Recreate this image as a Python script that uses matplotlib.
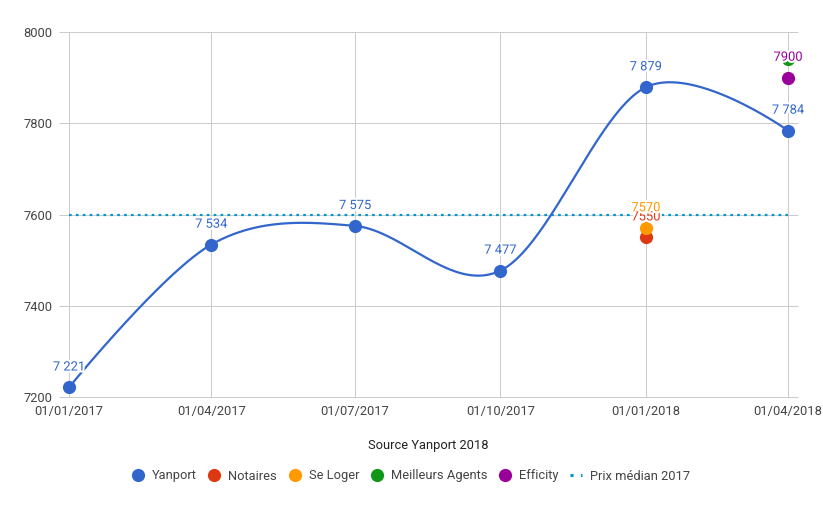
import numpy as np
import matplotlib
matplotlib.use("Agg")
import matplotlib.pyplot as plt
import matplotlib.dates as mdates
import matplotlib.patheffects as pe
from matplotlib.lines import Line2D
import datetime as dt

# ---- data ----
dates = ["2017-01-01", "2017-04-01", "2017-07-01", "2017-10-01", "2018-01-01", "2018-04-01"]
tick_labels = ["01/01/2017", "01/04/2017", "01/07/2017", "01/10/2017", "01/01/2018", "01/04/2018"]
yanport = [7221, 7534, 7575, 7477, 7879, 7784]
notaires_date, notaires = "2018-01-01", 7550
seloger_date, seloger = "2018-01-01", 7570
meilleurs_date, meilleurs = "2018-04-01", 7940
efficity_date, efficity = "2018-04-01", 7900
median_2017 = 7600
y_ticks = [7200, 7400, 7600, 7800, 8000]

C_YAN = "#3366CC"
C_NOT = "#DC3912"
C_SEL = "#FF9900"
C_MA = "#109618"
C_EFF = "#990099"
C_MED = "#0099C6"
GRID = "#cccccc"
TXT = "#444444"

plt.rcParams["font.family"] = ["Roboto", "DejaVu Sans"]

W, H = 823, 509
fig = plt.figure(figsize=(W / 100, H / 100), dpi=100)
ax = fig.add_axes([59 / W, 1 - 397 / H, (798 - 59) / W, (397 - 32) / H])

xd = np.array([mdates.date2num(dt.datetime.strptime(d, "%Y-%m-%d")) for d in dates])
yv = np.array(yanport, dtype=float)

def dnum(s):
    return mdates.date2num(dt.datetime.strptime(s, "%Y-%m-%d"))

# Catmull-Rom style bezier smoothing (function curve)
n = len(xd)
tx = np.zeros(n); ty = np.zeros(n)
for i in range(n):
    if 0 < i < n - 1:
        tx[i] = (xd[i + 1] - xd[i - 1]) / 6.0
        ty[i] = (yv[i + 1] - yv[i - 1]) / 6.0
cx, cy = [], []
t = np.linspace(0, 1, 80)
for i in range(n - 1):
    p0 = (xd[i], yv[i]); p3 = (xd[i + 1], yv[i + 1])
    p1 = (xd[i] + tx[i], yv[i] + ty[i])
    p2 = (xd[i + 1] - tx[i + 1], yv[i + 1] - ty[i + 1])
    bx = (1 - t) ** 3 * p0[0] + 3 * t * (1 - t) ** 2 * p1[0] + 3 * t ** 2 * (1 - t) * p2[0] + t ** 3 * p3[0]
    by = (1 - t) ** 3 * p0[1] + 3 * t * (1 - t) ** 2 * p1[1] + 3 * t ** 2 * (1 - t) * p2[1] + t ** 3 * p3[1]
    cx.extend(bx); cy.extend(by)

pad = 6.3
ax.set_xlim(xd[0] - pad, xd[-1] + pad)
ax.set_ylim(7200, 8000)

for s in ax.spines.values():
    s.set_visible(False)

# gridlines
for yy in y_ticks:
    ax.plot([xd[0] - pad, xd[-1] + pad], [yy, yy], color=GRID, lw=0.75, zorder=1, clip_on=False,
            solid_capstyle="butt")
for xx in xd:
    ax.plot([xx, xx], [7200, 8000], color=GRID, lw=0.75, zorder=1, solid_capstyle="butt")

ax.set_yticks(y_ticks)
ax.set_yticklabels([str(v) for v in y_ticks])
ax.set_xticks(xd)
ax.set_xticklabels(tick_labels)
ax.tick_params(axis="both", length=0, labelsize=9.3, colors=TXT)
ax.tick_params(axis="y", pad=4.5)
ax.tick_params(axis="x", pad=6)
ax.set_xlabel("Source Yanport 2018", fontsize=9.3, color="#222222", labelpad=15)

# median line
ax.plot([xd[0], xd[-1]], [median_2017, median_2017], color=C_MED, lw=1.6, dashes=(1.2, 1.9),
        dash_capstyle="butt", zorder=2)

# Yanport
ax.plot(cx, cy, color=C_YAN, lw=1.6, zorder=3, clip_on=False)
ax.plot(xd, yv, "o", color=C_YAN, ms=9.5, zorder=4, clip_on=False, mec="none")

halo = [pe.withStroke(linewidth=3, foreground="white")]
fs = 9.3
off = 10

def fmt(v):
    return "{:,}".format(int(v)).replace(",", " ")

# other points
ax.plot([dnum(notaires_date)], [notaires], "o", color=C_NOT, ms=9.5, mec="none", zorder=4, clip_on=False)
ax.plot([dnum(seloger_date)], [seloger], "o", color=C_SEL, ms=9.5, mec="none", zorder=4, clip_on=False)
ax.plot([dnum(meilleurs_date)], [meilleurs], "o", color=C_MA, ms=9.5, mec="none", zorder=4, clip_on=False)
ax.plot([dnum(efficity_date)], [efficity], "o", color=C_EFF, ms=9.5, mec="none", zorder=4, clip_on=False)

for x, y in zip(xd, yv):
    ax.annotate(fmt(y), (x, y), xytext=(0, off), textcoords="offset points", ha="center", va="bottom",
                color=C_YAN, fontsize=fs, path_effects=halo, zorder=6, annotation_clip=False)
ax.annotate(str(notaires), (dnum(notaires_date), notaires), xytext=(0, off), textcoords="offset points",
            ha="center", va="bottom", color=C_NOT, fontsize=fs, path_effects=halo, zorder=6)
ax.annotate(str(seloger), (dnum(seloger_date), seloger), xytext=(0, off), textcoords="offset points",
            ha="center", va="bottom", color=C_SEL, fontsize=fs, path_effects=halo, zorder=7)
ax.annotate(str(efficity), (dnum(efficity_date), efficity), xytext=(0, off), textcoords="offset points",
            ha="center", va="bottom", color=C_EFF, fontsize=fs, path_effects=halo, zorder=8)

# legend
handles = [
    Line2D([], [], ls="none", marker="o", color=C_YAN, ms=9.5, mec="none", label="Yanport"),
    Line2D([], [], ls="none", marker="o", color=C_NOT, ms=9.5, mec="none", label="Notaires"),
    Line2D([], [], ls="none", marker="o", color=C_SEL, ms=9.5, mec="none", label="Se Loger"),
    Line2D([], [], ls="none", marker="o", color=C_MA, ms=9.5, mec="none", label="Meilleurs Agents"),
    Line2D([], [], ls="none", marker="o", color=C_EFF, ms=9.5, mec="none", label="Efficity"),
    Line2D([], [], color=C_MED, lw=2.2, dashes=(1, 2.4), dash_capstyle="butt", label="Prix médian 2017"),
]
leg = fig.legend(handles=handles, loc="center", bbox_to_anchor=(411 / W, 1 - 476 / H), ncol=6,
                 frameon=False, fontsize=9.3, handlelength=0.95, handletextpad=0.6, columnspacing=0.9,
                 borderaxespad=0)
for t_ in leg.get_texts():
    t_.set_color(TXT)

fig.savefig("out.png", dpi=100)
